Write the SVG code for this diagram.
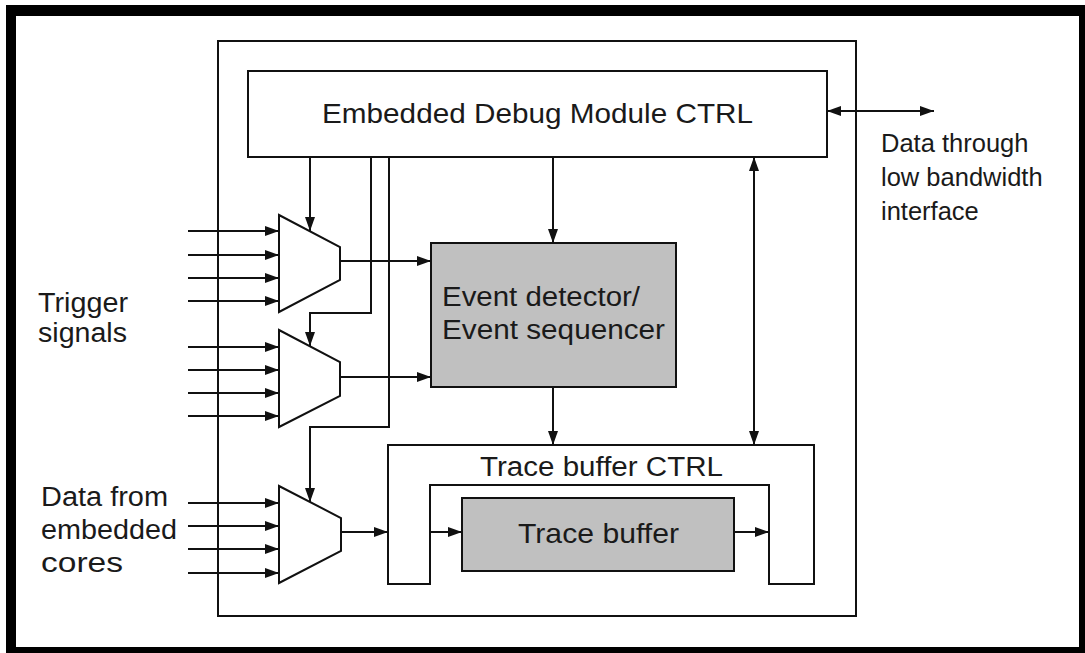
<svg xmlns="http://www.w3.org/2000/svg" width="1085" height="653" viewBox="0 0 1085 653">
  <defs>
    <marker id="arrow" markerUnits="userSpaceOnUse" markerWidth="14" markerHeight="10" refX="14" refY="5" orient="auto">
      <path d="M0,0 L14,5 L0,10 Z" fill="#111"/>
    </marker>
    <marker id="arrowStart" markerUnits="userSpaceOnUse" markerWidth="14" markerHeight="10" refX="0" refY="5" orient="auto">
      <path d="M14,0 L0,5 L14,10 Z" fill="#111"/>
    </marker>
  </defs>
  <style>
    .box { fill: #fff; stroke: #111; stroke-width: 2; }
    .gray { fill: #c0c0c0; stroke: #111; stroke-width: 2; }
    .wire { fill: none; stroke: #111; stroke-width: 2; }
    .arr { marker-end: url(#arrow); }
    .both { marker-start: url(#arrowStart); marker-end: url(#arrow); }
    text { font-family: "Liberation Sans", Arial, sans-serif; font-size: 27px; fill: #1a1a1a; }
    text.big { font-size: 28px; }
    text.side { font-size: 25.5px; }
  </style>

  <!-- page frame -->
  <rect x="6" y="5" width="1079" height="648" fill="#000"/>
  <rect x="16" y="16" width="1063" height="631" fill="#fff"/>

  <!-- enclosing module -->
  <rect id="module" class="box" x="218" y="41" width="638" height="575"/>

  <g id="edm-ctrl">
    <rect class="box" x="248" y="71" width="579" height="86"/>
    <text class="big" x="322" y="123" textLength="431" lengthAdjust="spacingAndGlyphs">Embedded Debug Module CTRL</text>
  </g>

  <g id="event-detector">
    <rect class="gray" x="431" y="243" width="245" height="144"/>
    <text x="442" y="306" textLength="198" lengthAdjust="spacingAndGlyphs">Event detector/</text>
    <text x="442" y="339" textLength="223" lengthAdjust="spacingAndGlyphs">Event sequencer</text>
  </g>

  <g id="trace-ctrl">
    <path class="box" d="M388,445 H814 V584 H769 V485 H430 V584 H388 Z"/>
    <text x="480" y="476" textLength="243" lengthAdjust="spacingAndGlyphs">Trace buffer CTRL</text>
  </g>

  <g id="trace-buffer">
    <rect class="gray" x="462" y="498" width="272" height="73"/>
    <text class="big" x="518" y="543" textLength="161" lengthAdjust="spacingAndGlyphs">Trace buffer</text>
  </g>

  <g id="mux1">
    <path class="box" d="M279,215 L340,247 L340,280 L279,312 Z"/>
  </g>
  <g id="mux2">
    <path class="box" d="M279,330 L340,362 L340,396 L279,427 Z"/>
  </g>
  <g id="mux3">
    <path class="box" d="M279,486 L341,518 L341,551 L279,583 Z"/>
  </g>

  <g id="labels">
    <text x="38" y="312" textLength="90" lengthAdjust="spacingAndGlyphs">Trigger</text>
    <text x="38" y="342" textLength="89" lengthAdjust="spacingAndGlyphs">signals</text>
    <text x="41" y="506" textLength="127" lengthAdjust="spacingAndGlyphs">Data from</text>
    <text x="41" y="539" textLength="136" lengthAdjust="spacingAndGlyphs">embedded</text>
    <text x="41" y="572" textLength="82" lengthAdjust="spacingAndGlyphs">cores</text>
    <text class="side" x="881" y="152">Data through</text>
    <text class="side" x="881" y="186">low bandwidth</text>
    <text class="side" x="881" y="220">interface</text>
  </g>

  <g id="connectors">
    <!-- trigger inputs, mux 1 -->
    <line class="wire arr" x1="188" y1="231" x2="279" y2="231"/>
    <line class="wire arr" x1="188" y1="255" x2="279" y2="255"/>
    <line class="wire arr" x1="188" y1="278" x2="279" y2="278"/>
    <line class="wire arr" x1="188" y1="301" x2="279" y2="301"/>
    <!-- trigger inputs, mux 2 -->
    <line class="wire arr" x1="188" y1="347" x2="279" y2="347"/>
    <line class="wire arr" x1="188" y1="370" x2="279" y2="370"/>
    <line class="wire arr" x1="188" y1="393" x2="279" y2="393"/>
    <line class="wire arr" x1="188" y1="416" x2="279" y2="416"/>
    <!-- core data inputs, mux 3 -->
    <line class="wire arr" x1="188" y1="503" x2="279" y2="503"/>
    <line class="wire arr" x1="188" y1="526" x2="279" y2="526"/>
    <line class="wire arr" x1="188" y1="549" x2="279" y2="549"/>
    <line class="wire arr" x1="188" y1="573" x2="279" y2="573"/>

    <!-- select lines from the controller -->
    <line class="wire arr" x1="310" y1="157" x2="310" y2="231"/>
    <path class="wire arr" d="M371,157 V313 H310 V346"/>
    <path class="wire arr" d="M389,157 V427 H310 V502"/>

    <!-- mux outputs -->
    <line class="wire arr" x1="340" y1="261" x2="431" y2="261"/>
    <line class="wire arr" x1="340" y1="377" x2="431" y2="377"/>
    <line class="wire arr" x1="341" y1="532" x2="388" y2="532"/>

    <!-- controller / detector / trace path -->
    <line class="wire arr" x1="553" y1="157" x2="553" y2="243"/>
    <line class="wire arr" x1="553" y1="387" x2="553" y2="445"/>
    <line class="wire both" x1="754" y1="157" x2="754" y2="445"/>
    <line class="wire arr" x1="430" y1="532" x2="462" y2="532"/>
    <line class="wire arr" x1="734" y1="532" x2="769" y2="532"/>

    <!-- external low bandwidth interface -->
    <line class="wire both" x1="827" y1="111" x2="934" y2="111"/>
  </g>
</svg>
